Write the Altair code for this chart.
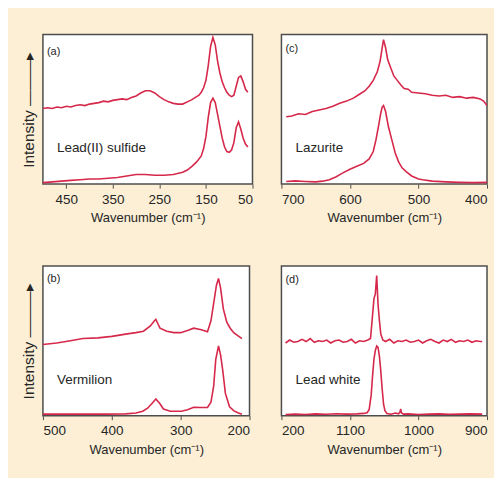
import altair as alt
import pandas as pd

RED = "#d6284a"
BG = "#fcefd5"
FONT = "Liberation Sans"

# ---- Panel (a) Lead(II) sulfide ----
a_up_w = [500, 490, 480, 470, 460, 450, 440, 430, 420, 410, 400, 390, 380, 370, 360, 350, 340, 330, 320, 310,
          300, 290, 280, 270, 260, 250, 240, 230, 220, 210, 200, 190, 180, 170, 165, 160, 155, 150, 145, 140,
          135, 130, 125, 120, 115, 110, 105, 100, 95, 90, 85, 80, 75, 70, 65, 60]
a_up_y = [51, 51.5, 51, 52, 51.5, 52.5, 52, 53, 53.5, 53, 54, 54.5, 55, 56, 55.5, 56.5, 57, 57.5, 57, 58.5,
          59.5, 61.5, 63, 63, 61.5, 59, 57, 55.5, 54.5, 54, 54, 55.5, 57, 59, 60, 62, 65, 70, 80, 93,
          99, 94, 83, 75, 69, 65, 62, 60, 59, 60, 66, 72, 73, 69, 64, 62]
a_lo_w = [500, 480, 460, 440, 420, 400, 380, 360, 340, 320, 300, 280, 260, 240, 220, 200, 190, 180, 170, 160,
          155, 150, 145, 140, 135, 130, 125, 120, 115, 110, 105, 100, 95, 90, 85, 80, 75, 70, 65, 60]
a_lo_y = [1, 1.5, 2, 2.5, 3, 3.5, 3.5, 4, 4.5, 5.5, 6.5, 6.5, 6, 6, 6.5, 8, 9.5, 12, 15, 19,
          24, 32, 45, 55, 58, 55, 47, 39, 31, 25, 22, 21.5, 23, 28, 38, 42, 37, 31, 27, 25]

# ---- Panel (c) Lazurite ----
c_up_w = [693, 685, 675, 665, 655, 645, 635, 625, 615, 605, 595, 585, 578, 572, 566, 560, 556, 553, 551, 548,
          545, 541, 536, 531, 526, 521, 515, 510, 500, 490, 480, 470, 460, 450, 440, 430, 420, 410, 405, 400]
c_up_y = [45.5, 46, 47.5, 47, 49, 50, 51, 52.5, 54.5, 56, 58, 61, 63, 66, 70, 76, 83, 92, 97.5, 92,
          84, 79, 73, 70, 67, 64.5, 64, 62, 61.5, 61, 60, 59.5, 60, 58.5, 59, 58, 58.5, 57.5, 56, 53]
c_lo_w = [693, 680, 665, 650, 640, 630, 620, 611, 600, 590, 580, 572, 566, 562, 558, 555, 553, 551, 548, 544,
          539, 534, 529, 524, 518, 510, 500, 494, 480, 460, 440, 420, 400]
c_lo_y = [1.8, 2.2, 1.8, 1.5, 2, 3, 5, 7.4, 10, 12, 14, 17, 22, 30, 40, 48, 52, 53, 49, 39,
          30, 21, 15, 11, 8.5, 5.5, 3.5, 3, 2, 1.5, 1.2, 1, 1.2]

# ---- Panel (b) Vermilion ----
b_up_w = [500, 480, 460, 442, 420, 400, 393, 380, 365, 354, 344, 338, 336, 333, 330, 320, 310, 300, 290, 281,
          270, 261, 256, 252, 248, 245, 242, 238, 233, 228, 223, 217, 211]
b_up_y = [48, 49, 50.5, 52, 52.5, 53.5, 54, 55, 56, 57, 60.5, 64, 65, 62, 59, 57, 56, 56, 57.5, 59,
          58, 56.6, 64, 76, 88, 92.6, 86, 72, 63, 59, 56, 54, 52]
b_lo_w = [500, 470, 440, 410, 380, 365, 355, 348, 342, 336, 330, 325, 315, 305, 299, 290, 281, 270, 261, 256,
          252, 249, 245, 242, 239, 235, 229, 223, 217, 211]
b_lo_y = [1, 1, 1, 1, 1.2, 1.8, 3, 5, 8, 11.2, 8, 4.5, 3, 3, 3, 4, 5.6, 5.5, 5.6, 9,
          20, 38, 47, 41, 31, 15, 6, 3.4, 2, 1]

# ---- Panel (d) Lead white ----
d_up_w = [1194, 1188, 1182, 1176, 1170, 1164, 1158, 1152, 1146, 1140, 1134, 1128, 1122, 1116, 1110, 1104, 1098,
          1092, 1086, 1080, 1074, 1070, 1067, 1065, 1063, 1061, 1059, 1057, 1055, 1052, 1048, 1042, 1036, 1030,
          1024, 1018, 1012, 1006, 1000, 994, 988, 982, 976, 970, 964, 958, 952, 946, 940, 934, 928, 922, 916,
          910, 907]
d_up_y = [49, 51, 49.5, 50, 51.5, 50, 52, 49.5, 50.5, 50, 51, 49, 50.5, 51, 49.5, 50, 51.5,
          49, 50.5, 50, 51, 52, 68, 79, 82, 94.5, 75, 64, 55, 51, 50, 51.5, 49, 50.5,
          50, 51, 49.5, 50, 51, 49, 50.5, 51.5, 50, 49, 51, 50, 51.5, 49.5, 50.5, 50, 51, 49.5, 50.5,
          50, 50]
d_lo_w = [1194, 1180, 1165, 1150, 1135, 1120, 1105, 1090, 1080, 1075, 1072, 1069, 1067, 1065, 1063, 1061, 1059,
          1057, 1055, 1053, 1051, 1049, 1046, 1040, 1034, 1029, 1027, 1026, 1025, 1022, 1015, 1000, 985, 970,
          955, 940, 925, 907]
d_lo_y = [0.7, 1, 0.8, 1.2, 0.9, 1.3, 1, 1.2, 1.5, 2, 4, 14, 27, 38, 44, 47, 46,
          40, 30, 18, 8, 3.4, 1.5, 1, 1.8, 1.2, 2.5, 4.5, 2, 1, 1.2, 0.8, 1, 1.2,
          0.9, 1, 1.2, 1]

panels = {
    "a": dict(up=(a_up_w, a_up_y), lo=(a_lo_w, a_lo_y), dom=[500, 50], ticks=[450, 350, 250, 150, 50],
              tag="(a)", name="Lead(II) sulfide", width=210, tagy=18, ylab=True),
    "c": dict(up=(c_up_w, c_up_y), lo=(c_lo_w, c_lo_y), dom=[700, 400], ticks=[700, 600, 500, 400],
              tag="(c)", name="Lazurite", width=206, tagy=15, ylab=False),
    "b": dict(up=(b_up_w, b_up_y), lo=(b_lo_w, b_lo_y), dom=[500, 200], ticks=[500, 400, 300, 200],
              tag="(b)", name="Vermilion", width=207, tagy=13, ylab=True),
    "d": dict(up=(d_up_w, d_up_y), lo=(d_lo_w, d_lo_y), dom=[1200, 900], ticks=[1200, 1100, 1000, 900],
              tag="(d)", name="Lead white", width=206, tagy=14, ylab=False),
}

XTITLE = "Wavenumber (cm\u207b\u00b9)"
TXT = "#262626"


def panel(key):
    p = panels[key]
    rows = []
    for s in ("up", "lo"):
        ws, ys = p[s]
        for w, y in zip(ws, ys):
            rows.append({"w": w, "y": y, "s": s})
    df = pd.DataFrame(rows)
    label_expr = "datum.value == 1200 ? '200' : datum.label" if key == "d" else "datum.label"
    x = alt.X("w:Q", scale=alt.Scale(domain=p["dom"], nice=False, zero=False),
              axis=alt.Axis(values=p["ticks"], title=XTITLE, labelExpr=label_expr, format="d"))
    if p["ylab"]:
        yaxis = alt.Axis(title="Intensity \u2014\u2014\u2014\u25b8", labels=False, ticks=False, domain=False,
                         grid=False, titlePadding=6, titleFontSize=15.5, titleColor=TXT)
    else:
        yaxis = None
    y = alt.Y("y:Q", scale=alt.Scale(domain=[0, 101], nice=False), axis=yaxis)
    lines = alt.Chart(df).mark_line(color=RED, strokeWidth=1.6, clip=True).encode(
        x=x, y=y, detail="s:N")
    tag = alt.Chart(pd.DataFrame({"t": [p["tag"]]})).mark_text(
        align="left", baseline="middle", fontSize=11, font=FONT, color=TXT).encode(
        text="t:N", x=alt.value(4), y=alt.value(p["tagy"]))
    name = alt.Chart(pd.DataFrame({"t": [p["name"]]})).mark_text(
        align="left", baseline="middle", fontSize=13.5, font=FONT, color=TXT).encode(
        text="t:N", x=alt.value(14), y=alt.value(114))
    return alt.layer(lines, tag, name).properties(width=p["width"], height=150)


chart = alt.concat(panel("a"), panel("c"), panel("b"), panel("d"), columns=2,
                   spacing={"row": 82, "column": 29}, bounds="flush").properties(
    background=BG, padding={"left": 13, "top": 25, "right": 5, "bottom": 20}
).configure_view(stroke="#4d4d4d", strokeWidth=1.5, fill="white").configure_axis(
    labelFont=FONT, titleFont=FONT, labelFontSize=13.5, titleFontSize=13, labelColor=TXT,
    titleColor=TXT, titleFontWeight="normal", tickColor="#4d4d4d", tickSize=4, grid=False,
    domain=False, labelPadding=4, titlePadding=6
)

chart.save("out.html", embed_options={"renderer": "svg", "actions": False})
